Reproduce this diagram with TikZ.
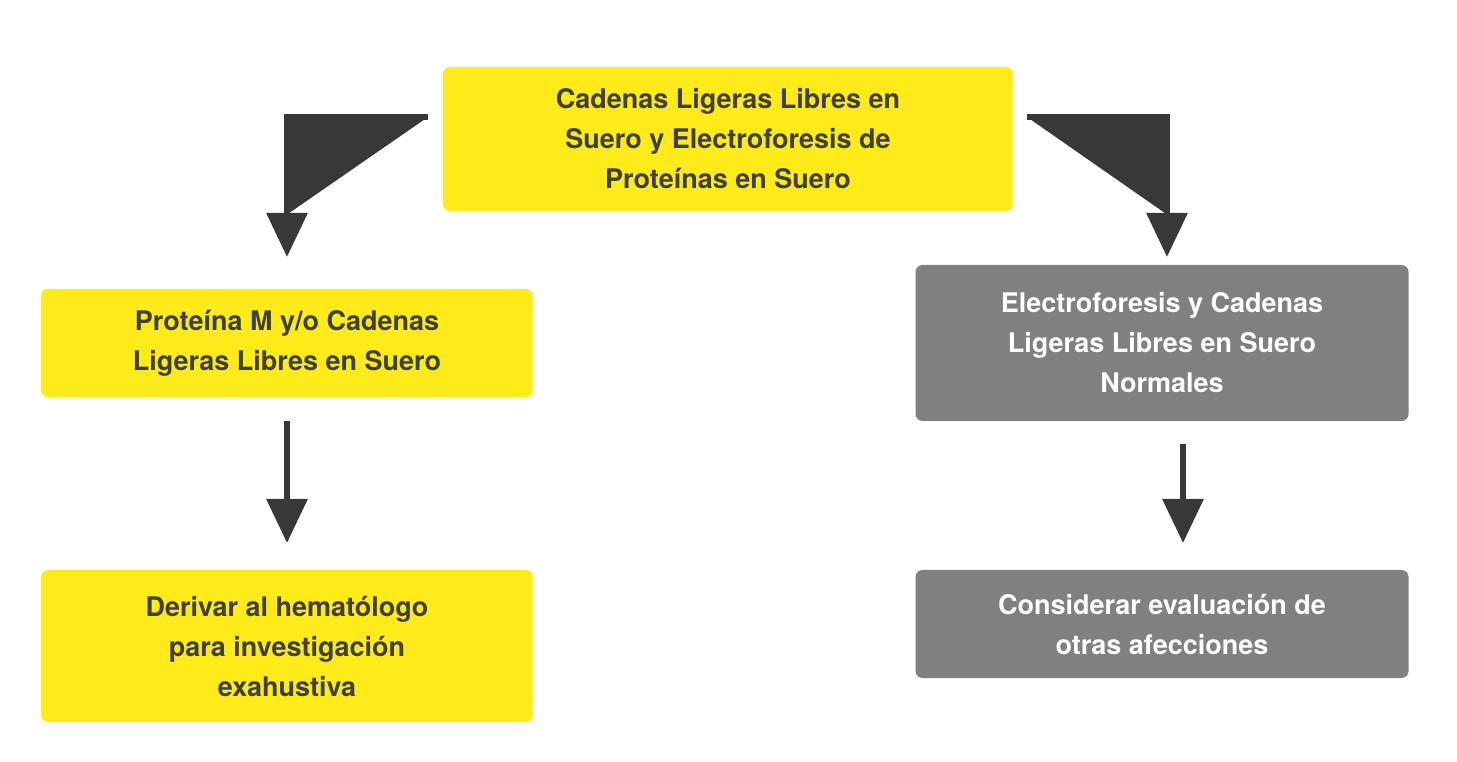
\documentclass[tikz,border=0pt]{standalone}
\usepackage{fontspec}
\setmainfont{TeX Gyre Heros}
\usetikzlibrary{arrows.meta}
\definecolor{amarillo}{HTML}{FFEA1A}
\definecolor{gris}{HTML}{808080}
\definecolor{texto}{HTML}{404040}
\definecolor{flecha}{HTML}{383836}
\tikzset{
  caja/.style={rounded corners=7pt, align=center, inner sep=0pt,
    font=\bfseries\fontsize{27}{40}\selectfont},
  cajaA/.style={caja, fill=amarillo, text=texto},
  cajaG/.style={caja, fill=gris, text=white},
  flechaN/.style={draw=flecha, line width=6pt, -{Triangle[width=40pt,length=44pt]}, fill=flecha}
}
\begin{document}
\begin{tikzpicture}[x=1pt,y=1pt]
  \useasboundingbox (0,0) rectangle (1457,761);
  \node[cajaA, minimum width=570pt, minimum height=144pt] (top) at (728,622)
    {Cadenas Ligeras Libres en\\Suero y Electroforesis de\\Proteínas en Suero};
  \node[cajaA, minimum width=492pt, minimum height=108pt] (izq1) at (287,418)
    {Proteína M y/o Cadenas\\Ligeras Libres en Suero};
  \node[cajaA, minimum width=492pt, minimum height=152pt] (izq2) at (287,115)
    {Derivar al hematólogo\\para investigación\\exahustiva};
  \node[cajaG, minimum width=493pt, minimum height=156pt] (der1) at (1162,418)
    {Electroforesis y Cadenas\\Ligeras Libres en Suero\\Normales};
  \node[cajaG, minimum width=493pt, minimum height=108pt] (der2) at (1162,137)
    {Considerar evaluación de\\otras afecciones};
  % conectores
  \coordinate (a1) at (428,644);
  \coordinate (a2) at (287,504);
  \coordinate (b1) at (1027,644);
  \coordinate (b2) at (1167,504);
  \coordinate (c1) at (287,340);
  \coordinate (c2) at (287,218);
  \coordinate (d1) at (1183,317);
  \coordinate (d2) at (1183,218);
  \draw[flechaN] (a1) -| (a2);
  \draw[flechaN] (b1) -| (b2);
  \draw[flechaN] (c1) -- (c2);
  \draw[flechaN] (d1) -- (d2);
\end{tikzpicture}
\end{document}
